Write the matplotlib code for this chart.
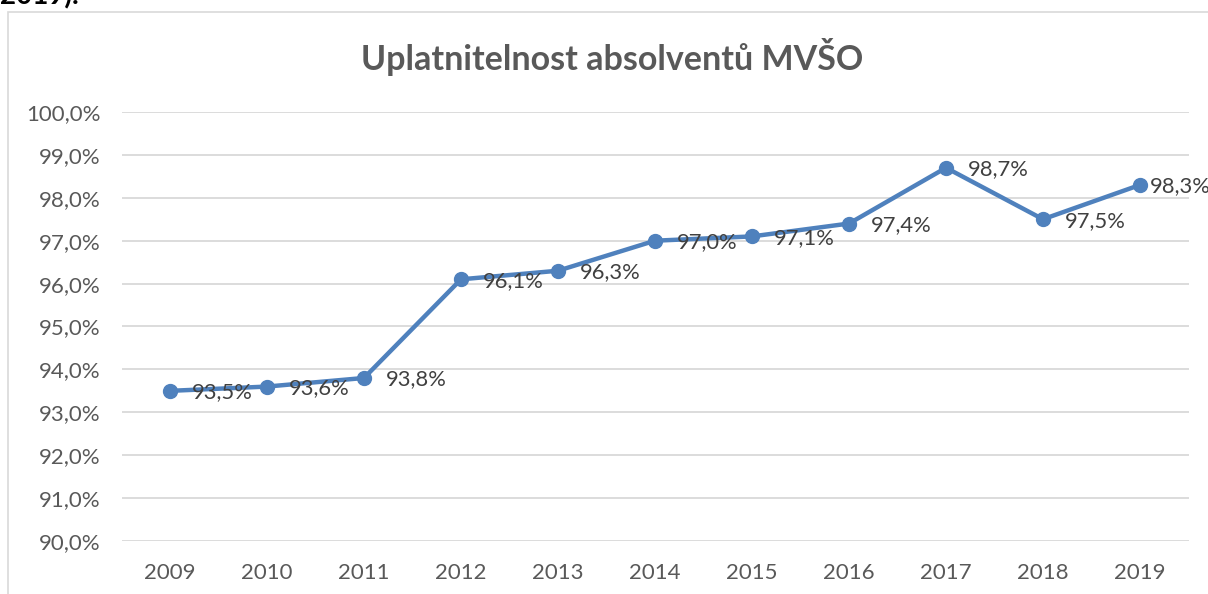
import matplotlib
matplotlib.use("Agg")
from matplotlib import pyplot as plt
from matplotlib.patches import Rectangle

years = ["2009", "2010", "2011", "2012", "2013", "2014", "2015", "2016", "2017", "2018", "2019"]
values = [93.5, 93.6, 93.8, 96.1, 96.3, 97.0, 97.1, 97.4, 98.7, 97.5, 98.3]
y_ticks = [90, 91, 92, 93, 94, 95, 96, 97, 98, 99, 100]

plt.rcParams['font.family'] = ['Lato', 'DejaVu Sans']

W, H = 1208, 594
fig = plt.figure(figsize=(W / 100, H / 100), dpi=100)

# chart border (excel chart frame, cut by screenshot)
fig.patches.append(Rectangle((8 / W, -0.1), 1.1, 1 - 12 / H + 0.1, transform=fig.transFigure,
                             fill=False, edgecolor='#D9D9D9', linewidth=1.2))
fig.text(0.0, 1 - 4 / H, "2019).", fontsize=20, fontweight='bold', color='black',
         ha='left', va='baseline')

ax = fig.add_axes([121.5 / W, 53 / H, 1067 / W, 429 / H])
x = list(range(len(years)))
ax.plot(x, values, color='#4F81BD', linewidth=3.2, marker='o', markersize=10,
        solid_capstyle='round', zorder=3)

offsets = [22, 22, 22, 22, 22, 22, 22, 22, 22, 22, 10]
for i, v in enumerate(values):
    ax.annotate(f"{v:.1f}%".replace('.', ','), (i, v), xytext=(offsets[i] * 0.72, -1),
                textcoords='offset points', ha='left', va='center',
                fontsize=15.8, color='#404040', annotation_clip=False, zorder=4)

ax.set_xlim(-0.5, len(years) - 0.5)
ax.set_ylim(90, 100)
ax.set_yticks(y_ticks)
ax.set_yticklabels([f"{t:.1f}%".replace('.', ',') for t in y_ticks])
ax.set_xticks(x)
ax.set_xticklabels(years)
ax.tick_params(axis='both', length=0, labelsize=16, labelcolor='#595959')
ax.tick_params(axis='y', pad=15)
ax.tick_params(axis='x', pad=16)
ax.grid(axis='y', color='#D9D9D9', linewidth=1.3)
ax.set_axisbelow(True)
for s in ax.spines.values():
    s.set_visible(False)

fig.text(612 / W, 1 - 57 / H, "Uplatnitelnost absolventů MVŠO", fontsize=24.5, fontweight='bold',
         color='#595959', ha='center', va='center')

fig.savefig("out.png", dpi=100)
